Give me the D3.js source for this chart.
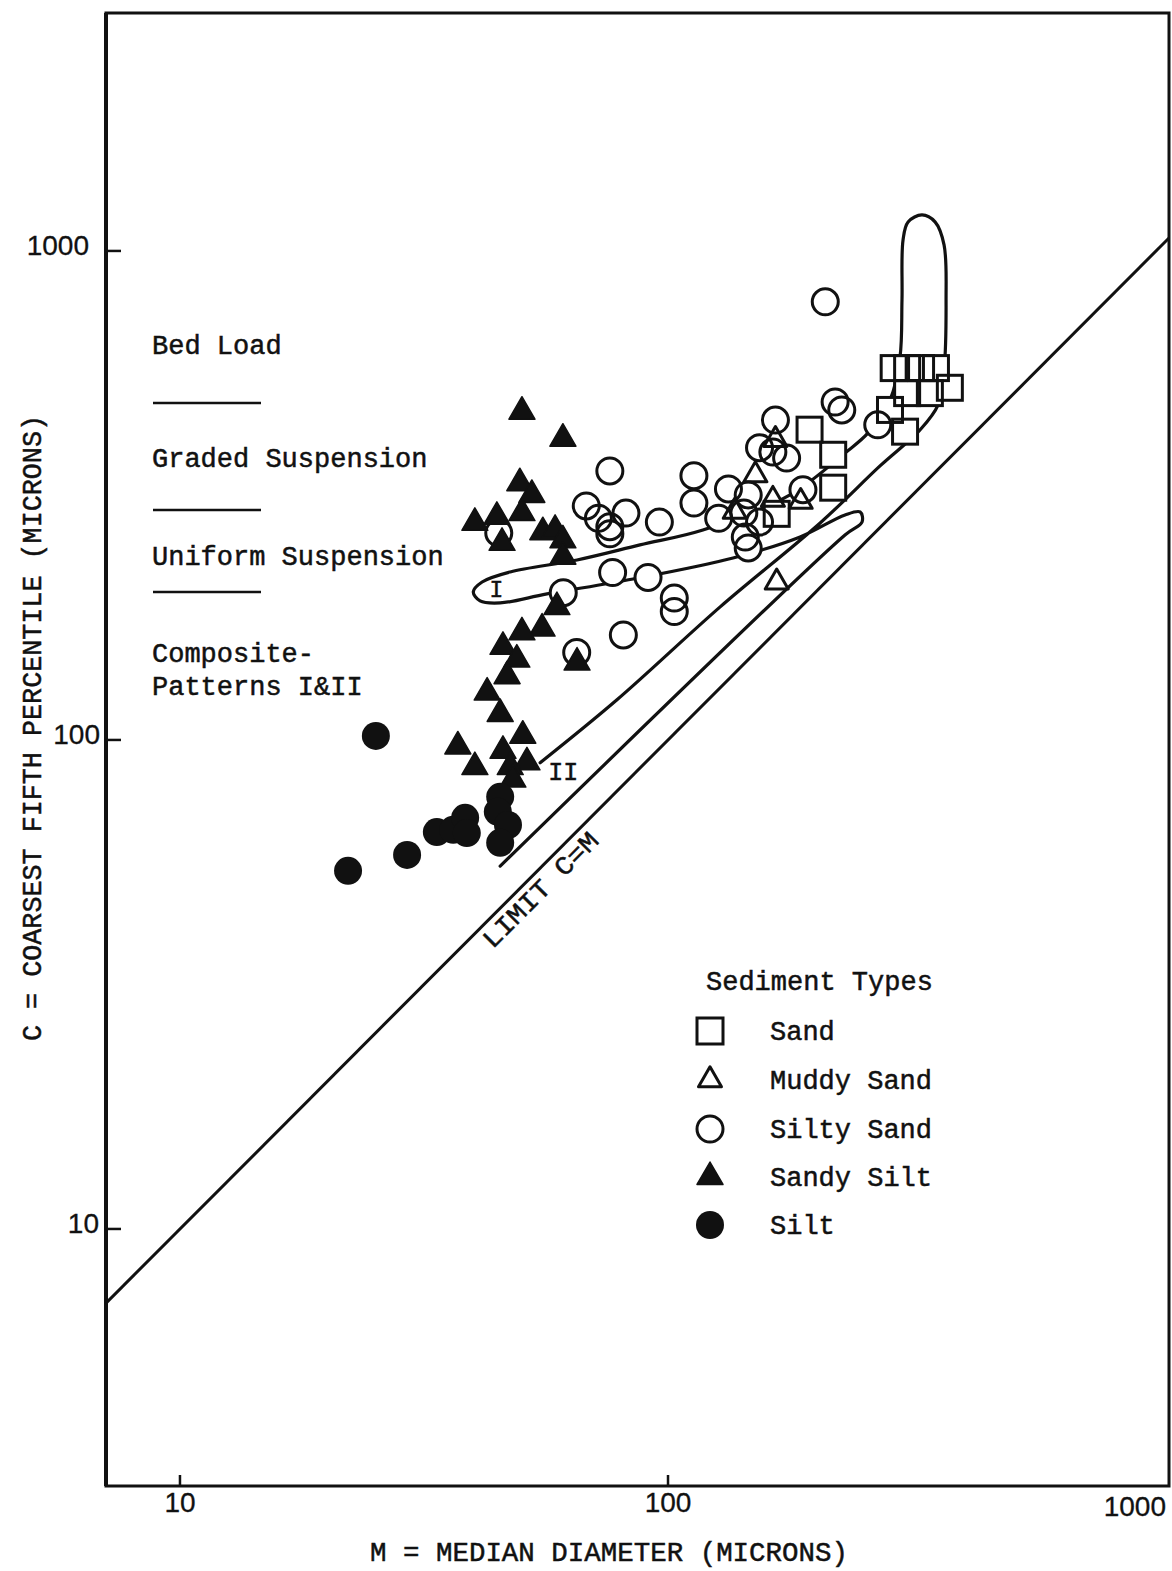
<!DOCTYPE html>
<html>
<head>
<meta charset="utf-8">
<script src="https://cdn.jsdelivr.net/npm/d3@7"></script>
<style>
  html, body { margin: 0; padding: 0; background: #fff; }
  svg { display: block; }
  text { font-family: "Liberation Mono", "DejaVu Sans Mono", monospace; fill: #111; stroke: #111; stroke-width: 0.5px; }
  .num { font-family: "Liberation Sans", Arial, sans-serif; stroke-width: 0.3px; }
</style>
</head>
<body>
<svg id="chart" width="1172" height="1571"></svg>
<script>
// C-M diagram: M = median diameter, C = coarsest fifth percentile (both in microns)

const sedimentTypes = ["Sand", "Muddy Sand", "Silty Sand", "Sandy Silt", "Silt"];

const sandM = [290, 309, 330, 354, 378, 309, 344, 285, 306, 195, 218, 218, 167];
const sandC = [576, 576, 576, 576, 525, 512, 512, 473, 427, 431, 383, 328, 290];

const muddySandM = [166, 151, 164, 187, 137, 167];
const muddySandC = [411, 348, 310, 307, 293, 210];

const siltySandM = [210, 220, 227, 166, 154, 164, 175, 269, 189,
                    76, 113, 113, 133, 146, 127, 143, 154, 144, 146,
                    68, 72, 76, 76, 82, 96,
                    77, 91, 61, 103, 103, 81, 65, 45];
const siltySandC = [787, 491, 473, 451, 396, 388, 377, 441, 325,
                    355, 347, 305, 326, 317, 284, 291, 279, 260, 247,
                    301, 284, 273, 264, 291, 279,
                    220, 215, 200, 195, 183, 164, 151, 265];

const sandySiltM = [50.2, 60.9, 49.7, 52.6, 50.2, 40.2, 44.6, 45.7, 55.4, 58.7,
                    60.9, 60.9, 59.2, 55.2, 50.2, 45.9, 49.0, 46.8, 65.1, 42.6,
                    45.3, 37.1, 40.2, 50.4, 45.9, 51.4, 47.5, 48.1];
const sandySiltC = [469, 413, 335, 317, 291, 278, 286, 253, 266, 269,
                    256, 237, 187, 169, 166, 155, 146, 135, 144, 125,
                    113, 97, 88, 102, 95, 90, 88, 83];

const siltM = [25.2, 22.1, 29.2, 33.6, 36.3, 38.4, 38.7, 45.3, 44.8, 47.0, 45.3];
const siltC = [101.9, 54.0, 58.2, 64.8, 65.5, 69.3, 64.5, 76.5, 71.3, 67.0, 61.6];

// Hand-drawn boundary of the bed load / graded / pattern I & II zones
const outlineM = [54.7, 78.6, 127.9, 205.0, 271.9, 328.4, 357.6, 367.8, 371.3, 367.8,
                  352.5, 331.5, 310.4, 303.1, 301.6, 298.8, 285.1, 257.0, 230.5, 177.8,
                  117.9, 87.6, 65.1, 47.5, 41.6, 39.9, 41.2, 45.3, 56.5, 84.8,
                  135.9, 186.5, 230.5, 247.5, 249.8, 230.5, 45.3];
const outlineC = [89.8, 120.8, 187.1, 277.8, 363.4, 430.5, 484.3, 571.0, 793.9, 1028.7,
                  1146.5, 1184.8, 1146.5, 1053.2, 793.9, 607.0, 495.7, 424.5, 386.3, 317.0,
                  268.8, 250.5, 233.4, 220.6, 210.4, 200.8, 192.4, 190.6, 198.9, 213.4,
                  235.6, 260.1, 288.5, 292.6, 279.1, 262.6, 55.2];

const xTicks = [10, 100, 1000];
const yTicks = [10, 100, 1000];
const xTickLabels = ["10", "100", "1000"];
const yTickLabels = ["10", "100", "1000"];

const zoneLabels = ["Bed Load", "Graded Suspension", "Uniform Suspension", "Composite-", "Patterns I&II"];

const xTitle = "M = MEDIAN DIAMETER (MICRONS)";
const yTitle = "C = COARSEST FIFTH PERCENTILE (MICRONS)";

// ---------------------------------------------------------------------------
const svg = d3.select("#chart");
const frame = { left: 106, top: 13, right: 1169, bottom: 1486 };

const x = d3.scaleLog().domain([7.054, 1063]).range([frame.left, frame.right]);
const y = d3.scaleLog().domain([2.981, 3066]).range([frame.bottom, frame.top]);

const zip = (ms, cs) => ms.map((m, i) => ({ m, c: cs[i] }));
const ink = "#111";

// frame
svg.append("rect")
  .attr("x", frame.left).attr("y", frame.top)
  .attr("width", frame.right - frame.left).attr("height", frame.bottom - frame.top)
  .attr("fill", "none").attr("stroke", ink).attr("stroke-width", 3);
svg.append("line")
  .attr("x1", frame.left).attr("x2", frame.left)
  .attr("y1", frame.top).attr("y2", frame.bottom)
  .attr("stroke", ink).attr("stroke-width", 4);

// left ticks & labels (label gap widens toward the top decade)
const yLabelGap = [7, 6, 17];
yTicks.forEach((v, i) => {
  svg.append("line")
    .attr("x1", frame.left).attr("x2", frame.left + 15)
    .attr("y1", y(v)).attr("y2", y(v))
    .attr("stroke", ink).attr("stroke-width", 2.5);
  svg.append("text").attr("class", "num")
    .attr("x", frame.left - yLabelGap[i]).attr("y", y(v) + 4)
    .attr("text-anchor", "end").attr("font-size", 28)
    .text(yTickLabels[i]);
});

// bottom ticks & labels
xTicks.forEach((v, i) => {
  const last = i === xTicks.length - 1;
  if (!last) {
    svg.append("line")
      .attr("x1", x(v)).attr("x2", x(v))
      .attr("y1", frame.bottom).attr("y2", frame.bottom - 11)
      .attr("stroke", ink).attr("stroke-width", 2.5);
  }
  svg.append("text").attr("class", "num")
    .attr("x", last ? frame.right - 3 : x(v))
    .attr("y", frame.bottom + (last ? 30 : 26))
    .attr("text-anchor", last ? "end" : "middle")
    .attr("font-size", 28)
    .text(xTickLabels[i]);
});

// axis titles
svg.append("text")
  .attr("x", 609).attr("y", 1561)
  .attr("text-anchor", "middle").attr("font-size", 28)
  .attr("textLength", 478).attr("lengthAdjust", "spacingAndGlyphs")
  .text(xTitle);
svg.append("text")
  .attr("transform", "translate(41,728) rotate(-90)")
  .attr("text-anchor", "middle").attr("font-size", 28)
  .attr("textLength", 626).attr("lengthAdjust", "spacingAndGlyphs")
  .text(yTitle);

// limit line C = M across the whole frame
const limitDomain = [Math.max(x.domain()[0], y.domain()[0]), Math.min(x.domain()[1], y.domain()[1])];
svg.append("line")
  .attr("x1", x(limitDomain[0])).attr("y1", y(limitDomain[0]))
  .attr("x2", x(limitDomain[1])).attr("y2", y(limitDomain[1]))
  .attr("stroke", ink).attr("stroke-width", 3);

const limitAt = 52;
const ang = Math.atan2(y(limitAt * 10) - y(limitAt), x(limitAt * 10) - x(limitAt)) * 180 / Math.PI;
svg.append("text")
  .attr("transform", `translate(${x(limitAt)},${y(limitAt)}) rotate(${ang})`)
  .attr("x", 0).attr("y", 24)
  .attr("text-anchor", "middle").attr("font-size", 26)
  .attr("textLength", 152).attr("lengthAdjust", "spacingAndGlyphs")
  .text("LIMIT C=M");

// zone boundary curve
const outline = zip(outlineM, outlineC);
svg.append("path")
  .datum(outline)
  .attr("d", d3.line().x(d => x(d.m)).y(d => y(d.c)).curve(d3.curveCatmullRom.alpha(0.5)))
  .attr("fill", "none").attr("stroke", ink).attr("stroke-width", 3.2)
  .attr("stroke-linejoin", "round").attr("stroke-linecap", "round");

// pattern labels inside the curve
svg.append("text").attr("x", x(44.5)).attr("y", y(204) + 8)
  .attr("text-anchor", "middle").attr("font-size", 23).text("I");
svg.append("text").attr("x", x(61)).attr("y", y(86) + 8)
  .attr("text-anchor", "middle").attr("font-size", 25).text("II");

// zone legend on the left
const zoneY = [354, 467, 565, 662, 695];
zoneLabels.forEach((t, i) => {
  svg.append("text").attr("x", 152).attr("y", zoneY[i])
    .attr("font-size", 27).text(t);
});
[403, 510, 592].forEach(yy => {
  svg.append("line").attr("x1", 153).attr("x2", 261)
    .attr("y1", yy).attr("y2", yy)
    .attr("stroke", ink).attr("stroke-width", 2.5);
});

// markers
const tri = s => d3.symbol().type(d3.symbolTriangle).size(s)();
const R = 13, SQ = 25, TRI_OPEN = 229, TRI_FILL = 292, R_FILL = 14;

const sand = zip(sandM, sandC);
const muddy = zip(muddySandM, muddySandC);
const silty = zip(siltySandM, siltySandC);
const sandySilt = zip(sandySiltM, sandySiltC);
const silt = zip(siltM, siltC);

// white knock-outs so boundary lines stop at open markers
const knock = svg.append("g").attr("fill", "#fff");
knock.selectAll(".kc").data(silty).join("circle")
  .attr("cx", d => x(d.m)).attr("cy", d => y(d.c)).attr("r", R);
knock.selectAll(".ks").data(sand).join("rect")
  .attr("x", d => x(d.m) - SQ / 2).attr("y", d => y(d.c) - SQ / 2)
  .attr("width", SQ).attr("height", SQ);
knock.selectAll(".kt").data(muddy).join("path")
  .attr("transform", d => `translate(${x(d.m)},${y(d.c)})`).attr("d", tri(TRI_OPEN));

const open = svg.append("g").attr("fill", "none").attr("stroke", ink).attr("stroke-width", 3);
open.selectAll(".c").data(silty).join("circle")
  .attr("cx", d => x(d.m)).attr("cy", d => y(d.c)).attr("r", R);
open.selectAll(".s").data(sand).join("rect")
  .attr("x", d => x(d.m) - SQ / 2).attr("y", d => y(d.c) - SQ / 2)
  .attr("width", SQ).attr("height", SQ);
open.selectAll(".t").data(muddy).join("path")
  .attr("transform", d => `translate(${x(d.m)},${y(d.c)})`).attr("d", tri(TRI_OPEN))
  .attr("stroke-linejoin", "round");

const filled = svg.append("g").attr("fill", ink);
filled.selectAll(".ft").data(sandySilt).join("path")
  .attr("transform", d => `translate(${x(d.m)},${y(d.c)})`).attr("d", tri(TRI_FILL))
  .attr("stroke", ink).attr("stroke-width", 1.5).attr("stroke-linejoin", "round");
filled.selectAll(".fc").data(silt).join("circle")
  .attr("cx", d => x(d.m)).attr("cy", d => y(d.c)).attr("r", R_FILL);

// sediment type legend
const lg = svg.append("g");
lg.append("text").attr("x", 706).attr("y", 990).attr("font-size", 27).text("Sediment Types");
const rowY = [1040, 1089, 1138, 1186, 1234];
const mx = 710;
sedimentTypes.forEach((t, i) => {
  const cy = rowY[i] - 9;
  if (i === 0) {
    lg.append("rect").attr("x", mx - 13).attr("y", cy - 13).attr("width", 26).attr("height", 26)
      .attr("fill", "none").attr("stroke", ink).attr("stroke-width", 3);
  } else if (i === 1) {
    lg.append("path").attr("transform", `translate(${mx},${cy})`).attr("d", tri(TRI_OPEN))
      .attr("fill", "none").attr("stroke", ink).attr("stroke-width", 3).attr("stroke-linejoin", "round");
  } else if (i === 2) {
    lg.append("circle").attr("cx", mx).attr("cy", cy).attr("r", R)
      .attr("fill", "none").attr("stroke", ink).attr("stroke-width", 3);
  } else if (i === 3) {
    lg.append("path").attr("transform", `translate(${mx},${cy})`).attr("d", tri(TRI_FILL))
      .attr("fill", ink).attr("stroke", ink).attr("stroke-width", 1.5).attr("stroke-linejoin", "round");
  } else {
    lg.append("circle").attr("cx", mx).attr("cy", cy).attr("r", R_FILL).attr("fill", ink);
  }
  lg.append("text").attr("x", 770).attr("y", rowY[i]).attr("font-size", 27).text(t);
});
</script>
</body>
</html>
